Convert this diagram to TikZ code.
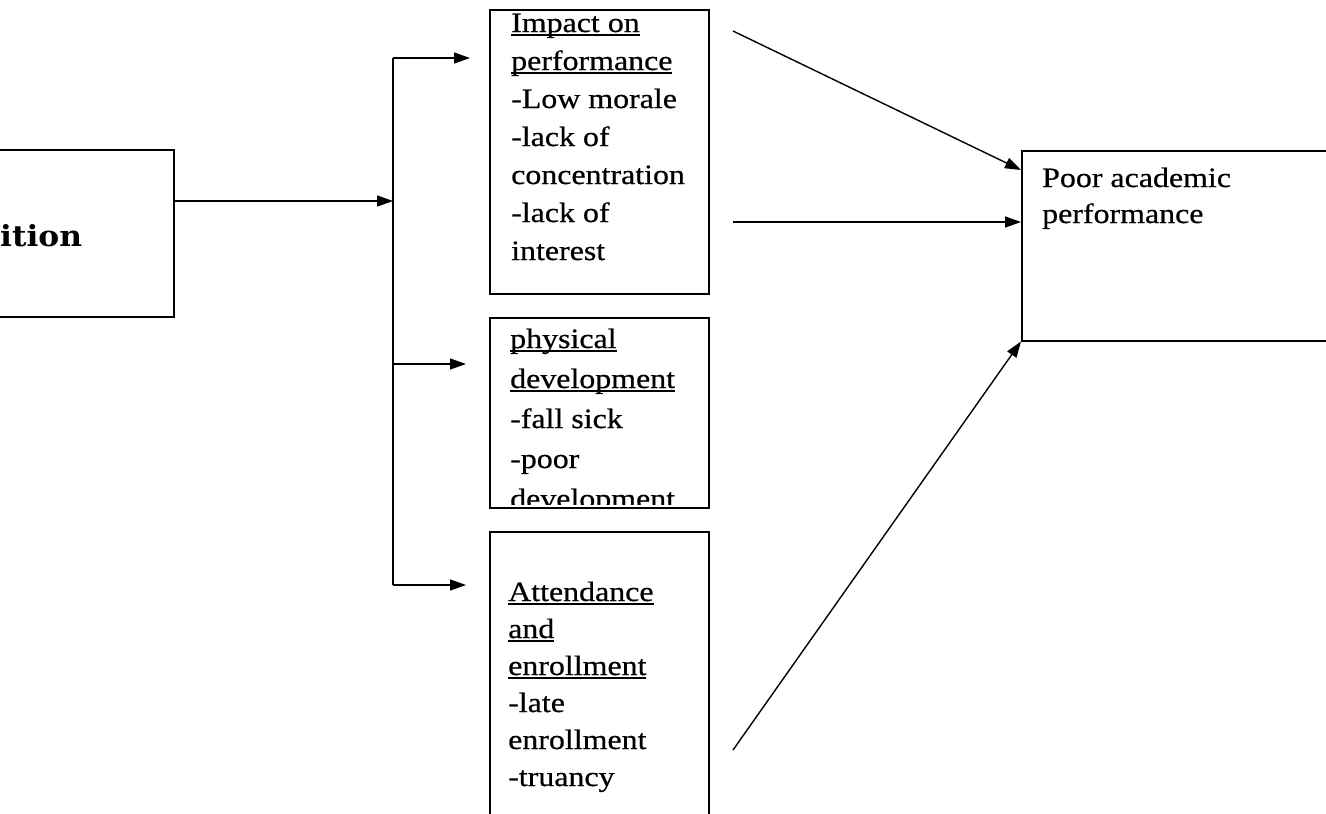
\documentclass[tikz,border=0pt]{standalone}
\usepackage{fontspec}
\newfontfamily\tnr{Liberation Serif}[FakeStretch=1.14,FakeBold=0.6]
\newfontfamily\bkm{DejaVu Serif}[FakeStretch=1.08]
\usetikzlibrary{arrows.meta}
\newcommand\ulx[1]{\leavevmode\setbox0\hbox{#1}\rlap{\rule[-3.5pt]{\wd0}{1.2pt}}\box0}
\tikzset{
  box/.style={draw, line width=1.5pt, rectangle, inner sep=0pt, anchor=north west},
  txt/.style={inner sep=0pt, anchor=base west, font=\tnr\fontsize{28}{38}\selectfont},
  conn/.style={line width=1.4pt},
  arr/.style={line width=1.4pt, -{Triangle[length=16pt,width=11pt]}},
}
\begin{document}
\begin{tikzpicture}[x=1pt,y=-1pt]
\clip (0,0) rectangle (1326,814);
\fill[white] (0,0) rectangle (1326,814);
% boxes
\node[box, minimum width=203pt, minimum height=167pt] (src) at (-30,149) {};
\node[box, minimum width=219pt, minimum height=284pt] (top) at (489,9) {};
\node[box, minimum width=219pt, minimum height=190pt] (mid) at (489,317) {};
\node[box, minimum width=219pt, minimum height=320pt] (bot) at (489,531) {};
\node[box, minimum width=330pt, minimum height=190pt] (tgt) at (1021,150) {};
% texts
\node[anchor=base west, inner sep=0pt, font=\bkm\bfseries\fontsize{29}{34}\selectfont] (srct) at (0,246) {ition};
\node[txt] (t1) at (511,32) {\parbox[t]{205pt}{\raggedright \ulx{Impact on}\\ \ulx{performance}\\ -Low morale\\ -lack of\\ concentration\\ -lack of\\ interest}};
\begin{scope}
\clip (mid.north west) rectangle ([yshift=4pt]mid.south east);
\node[txt, font=\tnr\fontsize{28}{40}\selectfont] (t2) at (510,348) {\parbox[t]{205pt}{\raggedright \ulx{physical}\\ \ulx{development}\\ -fall sick\\ -poor\\ development}};
\end{scope}
\node[txt, font=\tnr\fontsize{28}{37}\selectfont] (t3) at (508,601) {\parbox[t]{205pt}{\raggedright \ulx{Attendance}\\ \ulx{and}\\ \ulx{enrollment}\\ -late\\ enrollment\\ -truancy}};
\node[txt, font=\tnr\fontsize{28}{36}\selectfont] (t4) at (1042,187) {\parbox[t]{270pt}{\raggedright Poor academic\\ performance}};
% connectors
\coordinate (j) at (393,201);
\coordinate (jt) at (393,58);
\coordinate (jm) at (393,364);
\coordinate (jb) at (393,585);
\coordinate (a1) at (470,58);
\coordinate (a2) at (466,364);
\coordinate (a3) at (466,585);
\coordinate (s1) at (733,31);
\coordinate (s2) at (733,222);
\coordinate (s3) at (733,750);
\draw[arr] (src.east |- j) -- (j);
\draw[conn] (jt) -- (jb);
\draw[arr] (jt) -- (a1);
\draw[arr] (jm) -- (a2);
\draw[arr] (jb) -- (a3);
\draw[arr] (s1) -- ([yshift=-20pt]tgt.north west);
\draw[arr] (s2) -- (tgt.west |- s2);
\draw[arr] (s3) -- (tgt.south west);
\end{tikzpicture}
\end{document}
